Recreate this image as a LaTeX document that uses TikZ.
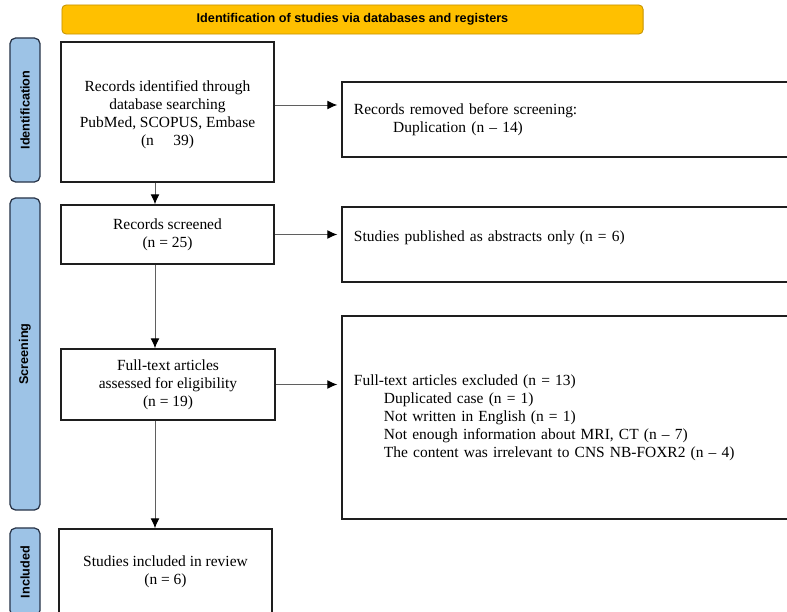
\documentclass[tikz,border=0pt]{standalone}
\usepackage{fontspec}
\setmainfont{Liberation Serif}
\newfontfamily\headfont{Liberation Sans}
\usepackage{tikz}
\usepackage{xcolor}
\usetikzlibrary{positioning,arrows.meta,calc}
\definecolor{mygold}{RGB}{255,192,0}
\definecolor{mygoldline}{RGB}{196,146,0}
\definecolor{myblue}{RGB}{157,195,230}
\definecolor{mynavy}{RGB}{40,52,72}
\definecolor{myline}{RGB}{30,30,30}
\definecolor{mygrey}{RGB}{95,95,95}
\tikzset{
    header/.style={
        rectangle,
        draw=mygoldline,
        fill=mygold,
        rounded corners=3pt,
        line width=0.6pt,
        inner sep=0pt,
        font=\headfont\fontsize{9}{11}\selectfont\bfseries
    },
    phase/.style={
        rectangle,
        draw=mynavy,
        fill=myblue,
        rounded corners=4pt,
        line width=0.9pt,
        rotate=90,
        minimum height=0.75cm,
        inner sep=0pt,
        font=\headfont\fontsize{9}{11}\selectfont\bfseries
    },
    record/.style={
        rectangle,
        draw=myline,
        fill=white,
        line width=0.9pt,
        align=center,
        inner sep=2pt,
        font=\fontsize{11}{12.8}\selectfont
    },
    sidebox/.style={
        record,
        minimum width=11.375cm,
        text width=10.775cm,
        inner xsep=0.3cm,
        align=left
    },
    arr/.style={-{Latex[length=2.5mm,width=2.2mm,color=black]},line width=0.7pt,mygrey},
    % harr/.style={arr,shorten >=0pt}
    harr/.style={arr,shorten >=0.1cm}
}

\begin{document}
\begin{tikzpicture}[x=0.025cm,y=-0.025cm]
\clip (0,0) rectangle (787,611);
\fill[white] (0,0) rectangle (787,611);

\node[header,minimum width=14.525cm,minimum height=0.725cm] (hdr) at (352.5,19.5)
    {Identification of studies via databases and registers};

\node[phase,minimum width=3.6cm] (pid) at (25,110) {Identification};
\node[phase,minimum width=7.8cm] (pscr) at (25,354) {Screening};
\node[phase,minimum width=2.2cm] (pinc) at (25,572) {Included};

\node[record,minimum width=5.325cm,minimum height=3.5cm] (found) at (167.5,112)
    {\raisebox{-2pt}[\height][\depth]{\begin{tabular}{@{}c@{}}Records identified through\\database searching\\PubMed, SCOPUS, Embase\\(n \quad 39)\end{tabular}}};
\node[sidebox,minimum height=1.875cm] (dup) at (569.5,119.5)
    {Records removed before screening:\\\hspace*{0.98cm}Duplication (n -- 14)};

\node[record,minimum width=5.325cm,minimum height=1.475cm] (screen) at (167.5,234.5)
    {Records screened\\(n = 25)};
\node[sidebox,minimum height=1.875cm] (abstr) at (569.5,244.5)
    {\raisebox{5pt}[\height][\depth]{Studies published as abstracts only (n = 6)}};

\node[record,minimum width=5.35cm,minimum height=1.775cm] (elig) at (168,384.5)
    {Full-text articles\\assessed for eligibility\\(n = 19)};
\node[sidebox,minimum height=5.075cm] (excl) at (569.5,417.5)
    {Full-text articles excluded (n = 13)\\
     \hspace*{0.75cm}Duplicated case (n = 1)\\
     \hspace*{0.75cm}Not written in English (n = 1)\\
     \hspace*{0.75cm}Not enough information about MRI, CT (n -- 7)\\
     \hspace*{0.75cm}The content was irrelevant to CNS NB-FOXR2 (n -- 4)};

\node[record,minimum width=5.325cm,minimum height=2.125cm] (incl) at (165.5,571.5)
    {Studies included in review\\(n = 6)};

\coordinate (spine) at (155,0);

\draw[arr] (spine |- found.south) -- (spine |- screen.north);
\draw[arr] (spine |- screen.south) -- (spine |- elig.north);
\draw[arr] (spine |- elig.south) -- (spine |- incl.north);
\draw[harr] ([yshift=0.175cm]found.east) -- ([yshift=0.175cm]found.east -| dup.west);
\draw[harr] (screen.east) -- (screen.east -| abstr.west);
\draw[harr] (elig.east) -- (elig.east -| excl.west);
\end{tikzpicture}
\end{document}
